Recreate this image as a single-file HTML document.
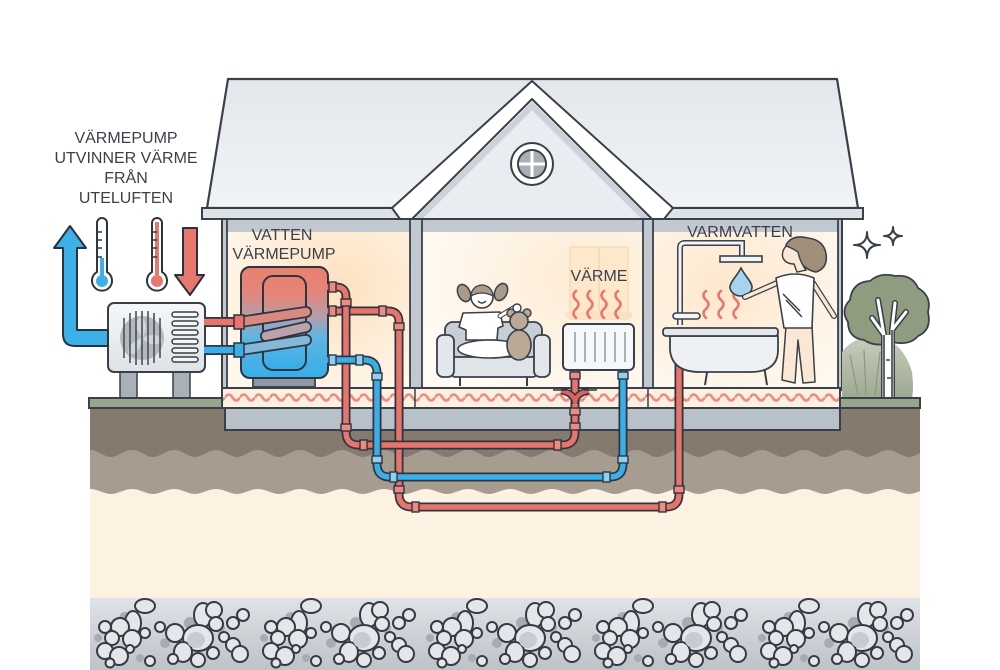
<!DOCTYPE html>
<html><head><meta charset="utf-8">
<style>
html,body{margin:0;padding:0;background:#fff;}
svg{display:block;}
text{font-family:"Liberation Sans",Arial,sans-serif;font-size:16px;fill:#3b404a;}
</style></head><body>
<svg width="1000" height="670" viewBox="0 0 1000 670" xmlns="http://www.w3.org/2000/svg">
<defs>
 <linearGradient id="roofG" x1="0" y1="0" x2="0" y2="1">
  <stop offset="0" stop-color="#e3e7ec"/><stop offset="1" stop-color="#f1f3f6"/>
 </linearGradient>
 <linearGradient id="gravG" x1="0" y1="0" x2="0" y2="1">
  <stop offset="0" stop-color="#dfe2e6"/><stop offset="1" stop-color="#bec3c9"/>
 </linearGradient>
 <linearGradient id="tankG" x1="0" y1="0" x2="0" y2="1">
  <stop offset="0" stop-color="#e9806f"/><stop offset="0.22" stop-color="#e5857a"/>
  <stop offset="0.45" stop-color="#b49eab"/><stop offset="0.62" stop-color="#62b4e0"/>
  <stop offset="1" stop-color="#36aeea"/>
 </linearGradient>
 <linearGradient id="hpG" x1="0" y1="0" x2="0" y2="1">
  <stop offset="0" stop-color="#f6f7f8"/><stop offset="1" stop-color="#dfe2e6"/>
 </linearGradient>
 <linearGradient id="bushG" x1="0" y1="0" x2="0" y2="1">
  <stop offset="0" stop-color="#c8cdbc"/><stop offset="1" stop-color="#9ea891"/>
 </linearGradient>
 <radialGradient id="room1" cx="0.62" cy="0.35" r="0.75">
  <stop offset="0" stop-color="#fde1bf"/><stop offset="1" stop-color="#fff7ec"/>
 </radialGradient>
 <radialGradient id="room2" cx="0.75" cy="0.3" r="0.8">
  <stop offset="0" stop-color="#fdebd2"/><stop offset="1" stop-color="#fffaf4"/>
 </radialGradient>
 <radialGradient id="room3" cx="0.4" cy="0.35" r="0.75">
  <stop offset="0" stop-color="#fde7cc"/><stop offset="1" stop-color="#fff8ef"/>
 </radialGradient>
 <pattern id="zig" x="0" y="388" width="15" height="20" patternUnits="userSpaceOnUse">
  <path d="M0,9.5 Q3.75,3.5 7.5,9.5 T15,9.5" fill="none" stroke="#ee8a80" stroke-width="2.6"/>
 </pattern>
 <pattern id="wave1" x="90" y="446" width="42" height="14" patternUnits="userSpaceOnUse">
  <path d="M0,0 H42 V4 C34,4 28,11 21,11 C14,11 8,4 0,4 Z" fill="#857a6e"/>
 </pattern>
 <pattern id="wave2" x="90" y="486" width="42" height="10" patternUnits="userSpaceOnUse">
  <path d="M0,0 H42 V3 C34,3 28,8 21,8 C14,8 8,3 0,3 Z" fill="#a79c90"/>
 </pattern>
 <pattern id="peb" x="90" y="598" width="166" height="72" patternUnits="userSpaceOnUse">
  <g fill="#a7acb3">
   <circle cx="35" cy="20" r="6"/><circle cx="75" cy="45" r="5"/><circle cx="130" cy="30" r="5"/>
   <circle cx="50" cy="60" r="4"/><circle cx="100" cy="25" r="6"/><circle cx="8" cy="40" r="4"/>
  </g>
  <g fill="#e4e6ea" stroke="#353b44" stroke-width="2">
   <ellipse cx="55" cy="8" rx="10" ry="7"/>
   <ellipse cx="43" cy="25" rx="8" ry="12"/>
   <circle cx="30" cy="29" r="9"/>
   <circle cx="15" cy="29" r="6"/>
   <circle cx="22" cy="40" r="7"/>
   <circle cx="42" cy="41" r="9"/>
   <circle cx="55" cy="35" r="5"/>
   <circle cx="15" cy="53" r="8"/>
   <circle cx="29" cy="58" r="9"/>
   <circle cx="20" cy="65" r="4.5"/>
   <circle cx="40" cy="51" r="4"/>
   <circle cx="60" cy="63" r="5"/>
   <ellipse cx="113" cy="17" rx="9" ry="12"/>
   <circle cx="124" cy="12" r="8"/>
   <circle cx="126" cy="26" r="7"/>
   <circle cx="85" cy="35" r="9"/>
   <circle cx="70" cy="29" r="5"/>
   <ellipse cx="108" cy="40" rx="15" ry="13"/>
   <ellipse cx="93" cy="54" rx="9" ry="10"/>
   <circle cx="83" cy="61" r="5"/>
   <circle cx="108" cy="62" r="7"/>
   <circle cx="123" cy="55" r="6"/>
   <circle cx="134" cy="39" r="5"/>
   <circle cx="143" cy="25" r="6"/>
   <circle cx="153" cy="17" r="6"/>
   <circle cx="143" cy="47" r="7"/>
   <circle cx="150" cy="56" r="8"/>
  </g>
  <ellipse cx="106" cy="42" rx="9" ry="8" fill="#c8ccd2"/>
 </pattern>
</defs>

<rect width="1000" height="670" fill="#fff"/>

<!-- ground -->
<rect x="90" y="408" width="830" height="190" fill="#fdf1e2"/>
<rect x="90" y="408" width="830" height="79" fill="#a79c90"/>
<rect x="90" y="486" width="830" height="10" fill="url(#wave2)"/>
<rect x="90" y="408" width="830" height="39" fill="#857a6e"/>
<rect x="90" y="446" width="830" height="14" fill="url(#wave1)"/>
<rect x="90" y="598" width="830" height="72" fill="url(#gravG)"/>
<rect x="90" y="598" width="830" height="72" fill="url(#peb)"/>

<!-- heat pump legs & strip -->
<rect x="120" y="371" width="17" height="28" fill="#a9b0b8" stroke="#3a4049" stroke-width="1.5"/>
<rect x="173" y="371" width="17" height="28" fill="#a9b0b8" stroke="#3a4049" stroke-width="1.5"/>
<rect x="89" y="398" width="831" height="10" fill="#95a68a" stroke="#3a4049" stroke-width="2"/>

<!-- heat pump unit -->
<rect x="108" y="303" width="97" height="69" rx="6" fill="url(#hpG)" stroke="#3a4049" stroke-width="2"/>
<circle cx="142" cy="338" r="22" fill="#b3b8be"/>
<path d="M142,338 Q130,322 142,317 Q150,327 142,338 Q160,330 162,342 Q150,348 142,338 Q140,356 128,354 Q128,342 142,338" fill="#d2d6db"/>
<g stroke="#4a5059" stroke-width="1.6">
 <line x1="124" y1="318" x2="124" y2="358"/><line x1="130" y1="313" x2="130" y2="363"/>
 <line x1="136" y1="311" x2="136" y2="365"/><line x1="142" y1="311" x2="142" y2="365"/>
 <line x1="148" y1="311" x2="148" y2="365"/><line x1="154" y1="313" x2="154" y2="363"/>
 <line x1="160" y1="318" x2="160" y2="358"/>
</g>
<g fill="#f4f5f6" stroke="#3a4049" stroke-width="1.5">
 <rect x="172" y="312" width="26" height="5" rx="2.5"/><rect x="172" y="321" width="26" height="5" rx="2.5"/>
 <rect x="172" y="330" width="26" height="5" rx="2.5"/><rect x="172" y="339" width="26" height="5" rx="2.5"/>
 <rect x="172" y="348" width="26" height="5" rx="2.5"/><rect x="172" y="357" width="26" height="5" rx="2.5"/>
</g>

<!-- blue arrow -->
<path d="M54,248 L70,226 L86,248 L77,248 L77,330 L108,330 L108,346 L75,346 Q63,346 63,334 L63,248 Z" fill="#3db0e8" stroke="#2a3240" stroke-width="2" stroke-linejoin="round"/>
<!-- red arrow -->
<path d="M183,228 H197 V275 H204 L190,295 L175,275 H183 Z" fill="#e8776d" stroke="#2a3240" stroke-width="2" stroke-linejoin="round"/>

<!-- thermometers -->
<path d="M97,223 a5,5 0 0 1 10,0 V272 a10,10 0 1 1 -10,0 Z" fill="#fff" stroke="#2f3540" stroke-width="2"/>
<rect x="100" y="258" width="4" height="20" fill="#3db0e8"/><circle cx="102" cy="281" r="6" fill="#3db0e8"/>
<g stroke="#2f3540" stroke-width="1.5"><line x1="97" y1="232" x2="102" y2="232"/><line x1="97" y1="240" x2="102" y2="240"/><line x1="97" y1="248" x2="102" y2="248"/><line x1="97" y1="257" x2="102" y2="257"/></g>
<path d="M152,223 a5,5 0 0 1 10,0 V272 a10,10 0 1 1 -10,0 Z" fill="#fff" stroke="#2f3540" stroke-width="2"/>
<rect x="155" y="222" width="4" height="56" fill="#e8776d"/><circle cx="157" cy="281" r="6" fill="#e8776d"/>
<g stroke="#2f3540" stroke-width="1.5"><line x1="152" y1="232" x2="157" y2="232"/><line x1="152" y1="240" x2="157" y2="240"/><line x1="152" y1="248" x2="157" y2="248"/><line x1="152" y1="257" x2="157" y2="257"/></g>

<!-- roof -->
<polygon points="228,79 837,79 858,208 207,208" fill="url(#roofG)" stroke="#3a4049" stroke-width="2.2" stroke-linejoin="round"/>
<rect x="202" y="208" width="661" height="11" fill="#dde2e7" stroke="#3a4049" stroke-width="2"/>
<polygon points="532,99 410,219 654,219" fill="#e9ecf0"/>
<path d="M418,219 L532,106 L646,219" fill="none" stroke="#ccd2d9" stroke-width="6"/>
<polygon points="532,81 392,208 400,219 412,219 532,99 652,219 664,219 673,208" fill="#fff" stroke="#3a4049" stroke-width="2" stroke-linejoin="round"/>
<circle cx="532" cy="164" r="21" fill="#fff" stroke="#3a4049" stroke-width="2"/>
<circle cx="532" cy="164" r="14" fill="#a9afb7" stroke="#3a4049" stroke-width="2"/>
<path d="M532,151 V177 M519,164 H545" stroke="#fff" stroke-width="3"/>

<!-- house body -->
<rect x="222" y="219" width="620" height="171" fill="#c1c8d0" stroke="#3a4049" stroke-width="2"/>
<rect x="227" y="232" width="183" height="157" fill="url(#room1)"/>
<rect x="422" y="232" width="221" height="157" fill="url(#room2)"/>
<rect x="653" y="232" width="185" height="157" fill="url(#room3)"/>
<g stroke="#3a4049" stroke-width="1.8">
 <line x1="410" y1="219" x2="410" y2="389"/><line x1="422" y1="219" x2="422" y2="389"/>
 <line x1="643" y1="219" x2="643" y2="389"/><line x1="653" y1="219" x2="653" y2="389"/>
 <line x1="227" y1="219" x2="227" y2="389"/><line x1="838" y1="219" x2="838" y2="389"/>
</g>
<rect x="222" y="388" width="618" height="20" fill="#fdf0e1" stroke="#3a4049" stroke-width="2"/>
<rect x="223" y="389" width="616" height="18" fill="url(#zig)"/>
<g stroke="#3a4049" stroke-width="1.5"><line x1="415" y1="388" x2="415" y2="408"/><line x1="648" y1="388" x2="648" y2="408"/></g>
<rect x="225" y="408" width="615" height="22" fill="#b8c1ca" stroke="#3a4049" stroke-width="2"/>

<!-- middle room window -->
<rect x="570" y="247" width="58" height="72" fill="#fde6c6" opacity="0.7" stroke="#f4d6ab" stroke-width="1.5"/>
<line x1="599" y1="247" x2="599" y2="312" stroke="#f4d6ab" stroke-width="1.5"/>
<rect x="566" y="312" width="66" height="6" fill="#fbe0bd" opacity="0.8"/>

<!-- tank -->
<rect x="253" y="376" width="62" height="11" fill="#8e99a5" stroke="#3a4049" stroke-width="1.8"/>
<rect x="241" y="267" width="87" height="111" rx="9" fill="url(#tankG)" stroke="#2f3540" stroke-width="2"/>
<rect x="263" y="276" width="43" height="94" rx="10" fill="url(#tankG)" stroke="#2f3540" stroke-width="2"/>
<!-- HP to tank pipes -->
<g fill="none" stroke-linecap="butt">
 <line x1="204" y1="322" x2="240" y2="322" stroke="#2f3540" stroke-width="10"/>
 <line x1="204" y1="322" x2="240" y2="322" stroke="#e8756c" stroke-width="6.5"/>
 <line x1="204" y1="350" x2="240" y2="350" stroke="#2f3540" stroke-width="10"/>
 <line x1="204" y1="350" x2="240" y2="350" stroke="#3aaee6" stroke-width="6.5"/>
</g>
<g stroke-linecap="round">
 <line x1="266" y1="336" x2="306" y2="327" stroke="#2f3540" stroke-width="12"/>
 <line x1="266" y1="336" x2="306" y2="327" stroke="#bba2ad" stroke-width="8.5"/>
 <line x1="240" y1="322" x2="306" y2="312" stroke="#2f3540" stroke-width="12"/>
 <line x1="240" y1="322" x2="306" y2="312" stroke="#d98a80" stroke-width="8.5"/>
 <line x1="240" y1="350" x2="306" y2="340" stroke="#2f3540" stroke-width="12"/>
 <line x1="240" y1="350" x2="306" y2="340" stroke="#84b8d8" stroke-width="8.5"/>
</g>
<rect x="234" y="315" width="10" height="14" fill="#e8756c" stroke="#2f3540" stroke-width="1.5"/>
<rect x="234" y="343" width="10" height="14" fill="#3aaee6" stroke="#2f3540" stroke-width="1.5"/>

<!-- pipes -->
<g fill="none" stroke-linejoin="round">
 <path d="M327,311 H388 Q399,311 399,322 V494 Q399,507 412,507 H666 Q679,507 679,494 V334" stroke="#2f3540" stroke-width="9"/>
 <path d="M327,311 H388 Q399,311 399,322 V494 Q399,507 412,507 H666 Q679,507 679,494 V334" stroke="#e8756c" stroke-width="5.5"/>
 <path d="M327,287 H336 Q346,287 346,297 V432 Q346,445 359,445 H562 Q575,445 575,432 V370" stroke="#2f3540" stroke-width="9"/>
 <path d="M327,287 H336 Q346,287 346,297 V432 Q346,445 359,445 H562 Q575,445 575,432 V370" stroke="#e8756c" stroke-width="5.5"/>
 <path d="M327,360 H364 Q377,360 377,373 V464 Q377,477 390,477 H610 Q623,477 623,464 V370" stroke="#2f3540" stroke-width="9"/>
 <path d="M327,360 H364 Q377,360 377,373 V464 Q377,477 390,477 H610 Q623,477 623,464 V370" stroke="#3aaee6" stroke-width="5.5"/>
 <path d="M575,404 Q575,393 561,391 M575,404 Q575,393 589,391" stroke="#2f3540" stroke-width="7"/>
 <path d="M575,404 Q575,393 561,391 M575,404 Q575,393 589,391" stroke="#d9645c" stroke-width="4"/>
</g>
<g stroke="#2f3540" stroke-width="1.5">
 <line x1="553" y1="390" x2="566" y2="390"/><line x1="584" y1="390" x2="597" y2="390"/>
</g>
<g stroke="#2f3540" stroke-width="1.4" fill="#ee8a82">
 <rect x="329" y="282" width="7" height="10"/><rect x="329" y="306" width="7" height="10"/>
 <rect x="341" y="299" width="10" height="7"/><rect x="341" y="424" width="10" height="7"/>
 <rect x="360" y="440" width="7" height="10"/><rect x="554" y="440" width="7" height="10"/>
 <rect x="570" y="408" width="10" height="7"/><rect x="570" y="423" width="10" height="7"/>
 <rect x="379" y="306" width="7" height="10"/><rect x="394" y="323" width="10" height="7"/>
 <rect x="394" y="486" width="10" height="7"/><rect x="412" y="502" width="7" height="10"/>
 <rect x="659" y="502" width="7" height="10"/><rect x="674" y="486" width="10" height="7"/>
 <rect x="674" y="337" width="10" height="7"/><rect x="570" y="372" width="10" height="7"/>
</g>
<g stroke="#2f3540" stroke-width="1.4" fill="#8fd0f0">
 <rect x="329" y="355" width="7" height="10"/><rect x="356" y="355" width="7" height="10"/>
 <rect x="372" y="373" width="10" height="7"/><rect x="372" y="456" width="10" height="7"/>
 <rect x="390" y="472" width="7" height="10"/><rect x="603" y="472" width="7" height="10"/>
 <rect x="618" y="456" width="10" height="7"/><rect x="618" y="372" width="10" height="7"/>
</g>

<!-- sofa -->
<rect x="445" y="322" width="97" height="40" rx="8" fill="#c7ced6" stroke="#3a4049" stroke-width="1.8"/>
<rect x="452" y="357" width="84" height="20" rx="3" fill="#dfe4e9" stroke="#3a4049" stroke-width="1.8"/>
<rect x="437" y="335" width="17" height="42" rx="6" fill="#e3e7ec" stroke="#3a4049" stroke-width="1.8"/>
<rect x="534" y="335" width="16" height="42" rx="6" fill="#e3e7ec" stroke="#3a4049" stroke-width="1.8"/>
<g stroke="#3a4049" stroke-width="2"><line x1="460" y1="377" x2="460" y2="386"/><line x1="527" y1="377" x2="527" y2="386"/></g>
<!-- girl -->
<ellipse cx="464" cy="293" rx="6" ry="9" fill="#ab9a88" stroke="#3a4049" stroke-width="1.5" transform="rotate(-25 464 293)"/>
<ellipse cx="501" cy="292" rx="6" ry="9" fill="#ab9a88" stroke="#3a4049" stroke-width="1.5" transform="rotate(25 501 292)"/>
<path d="M463,313 L500,312 L503,326 L498,328 L497,340 L466,340 L466,330 L459,327 Z" fill="#fff" stroke="#3a4049" stroke-width="1.6" stroke-linejoin="round"/>
<ellipse cx="490" cy="349" rx="32" ry="9" fill="#fff" stroke="#3a4049" stroke-width="1.6"/>
<path d="M500,316 L515,307" stroke="#3a4049" stroke-width="5" stroke-linecap="round"/>
<path d="M500,316 L515,307" stroke="#fff" stroke-width="3" stroke-linecap="round"/>
<circle cx="482" cy="297" r="11" fill="#fff" stroke="#3a4049" stroke-width="1.6"/>
<path d="M471,296 A11,11 0 0 1 493,296 Q482,290 471,296 Z" fill="#ab9a88" stroke="#3a4049" stroke-width="1.3"/>
<path d="M478,301 Q482,305 486,301" fill="none" stroke="#3a4049" stroke-width="1.3"/>
<!-- teddy -->
<ellipse cx="519" cy="345" rx="12" ry="15" fill="#bba896" stroke="#3a4049" stroke-width="1.6"/>
<circle cx="511" cy="313" r="4" fill="#bba896" stroke="#3a4049" stroke-width="1.4"/>
<circle cx="527" cy="313" r="4" fill="#bba896" stroke="#3a4049" stroke-width="1.4"/>
<circle cx="519" cy="321" r="9" fill="#bba896" stroke="#3a4049" stroke-width="1.6"/>
<circle cx="517" cy="308" r="4" fill="#fff" stroke="#3a4049" stroke-width="1.4"/>

<!-- radiator -->
<rect x="563" y="324" width="71" height="46" rx="5" fill="#f6f7f9" stroke="#3a4049" stroke-width="2"/>
<g stroke="#a9b0b8" stroke-width="2"><line x1="575" y1="332" x2="575" y2="362"/><line x1="585" y1="332" x2="585" y2="362"/><line x1="595" y1="332" x2="595" y2="362"/><line x1="605" y1="332" x2="605" y2="362"/><line x1="615" y1="332" x2="615" y2="362"/><line x1="625" y1="332" x2="625" y2="362"/></g>
<g fill="none" stroke="#e8756c" stroke-width="2.6" stroke-linecap="round">
 <path d="M576,318 q-5,-5 0,-9 q5,-5 0,-9 q-5,-5 0,-9"/>
 <path d="M590,318 q-5,-5 0,-9 q5,-5 0,-9 q-5,-5 0,-9"/>
 <path d="M604,318 q-5,-5 0,-9 q5,-5 0,-9 q-5,-5 0,-9"/>
 <path d="M618,318 q-5,-5 0,-9 q5,-5 0,-9 q-5,-5 0,-9"/>
</g>

<!-- bathroom -->
<path d="M680,325 V248 Q680,243 685,243 H742 V256" fill="none" stroke="#3a4049" stroke-width="6"/>
<path d="M680,325 V248 Q680,243 685,243 H742 V256" fill="none" stroke="#f2f4f6" stroke-width="3"/>
<rect x="720" y="256" width="42" height="6" fill="#f2f4f6" stroke="#3a4049" stroke-width="1.6"/>
<rect x="673" y="313" width="27" height="6" rx="3" fill="#f2f4f6" stroke="#3a4049" stroke-width="1.6"/>
<g fill="none" stroke="#e8756c" stroke-width="2.6" stroke-linecap="round">
 <path d="M706,318 q-5,-5 0,-9 q5,-5 0,-9 q-5,-5 0,-9"/>
 <path d="M721,318 q-5,-5 0,-9 q5,-5 0,-9 q-5,-5 0,-9"/>
 <path d="M736,318 q-5,-5 0,-9 q5,-5 0,-9 q-5,-5 0,-9"/>
</g>
<path d="M741,268 C745,276 752,282 752,287 A11,9 0 0 1 730,287 C730,282 737,276 741,268 Z" fill="#a7d3ee" stroke="#3a4049" stroke-width="1.6"/>
<g stroke="#3a4049" stroke-width="2"><line x1="708" y1="366" x2="705" y2="385"/><line x1="764" y1="366" x2="767" y2="385"/></g>
<path d="M670,336 H778 V350 Q778,372 750,372 H700 Q672,372 670,350 Z" fill="#eef1f4" stroke="#3a4049" stroke-width="1.8"/>
<rect x="663" y="328" width="115" height="8" rx="3" fill="#e4e8ec" stroke="#3a4049" stroke-width="1.8"/>
<!-- woman -->
<path d="M786,326 L782,380 L795,383 L798,340 L803,383 L815,382 L812,326 Z" fill="#fbe8d4" stroke="#3a4049" stroke-width="1.5" stroke-linejoin="round"/>
<path d="M777,283 L745,297" stroke="#3a4049" stroke-width="6" stroke-linecap="round"/>
<path d="M777,283 L745,297" stroke="#fbe8d4" stroke-width="3.5" stroke-linecap="round"/>
<path d="M813,283 L834,316" stroke="#3a4049" stroke-width="6" stroke-linecap="round"/>
<path d="M813,283 L834,316" stroke="#fbe8d4" stroke-width="3.5" stroke-linecap="round"/>
<path d="M776,278 Q795,270 814,278 L812,328 L784,328 Z" fill="#fff" stroke="#3a4049" stroke-width="1.6" stroke-linejoin="round"/>
<g stroke="#3a4049" stroke-width="1.5"><line x1="783" y1="294" x2="800" y2="311"/><line x1="786" y1="300" x2="802" y2="317"/></g>
<path d="M786,245 Q792,234 808,238 Q824,240 826,254 Q828,268 816,272 Q806,270 800,262 Q792,258 786,245 Z" fill="#a18f7c" stroke="#3a4049" stroke-width="1.6"/>
<path d="M786,246 Q781,252 783,258 Q786,264 794,264 L797,272 L806,270 Q800,262 798,252 Q792,248 786,246 Z" fill="#fbe8d4" stroke="#3a4049" stroke-width="1.4"/>

<!-- tree / bush -->
<path d="M842,398 V352 Q852,338 872,336 Q902,338 912,372 Q914,388 912,398 Z" fill="url(#bushG)"/>
<g stroke="#8d977f" stroke-width="1.2"><line x1="858" y1="395" x2="850" y2="355"/><line x1="866" y1="395" x2="864" y2="350"/><line x1="875" y1="395" x2="880" y2="352"/></g>
<path d="M850,300 Q852,282 870,281 Q880,272 895,276 Q912,274 918,288 Q932,296 928,312 Q932,330 918,336 Q910,346 892,342 Q876,348 864,340 Q848,338 848,322 Q840,310 850,300 Z" fill="#8f9c80" stroke="#3a4049" stroke-width="1.8"/>
<path d="M884,398 V335 L872,318 M884,335 L878,300 M892,398 V330 L906,312 M892,330 L895,303" fill="none" stroke="#3a4049" stroke-width="6" stroke-linecap="round" stroke-linejoin="round"/>
<path d="M884,398 V335 L872,318 M884,335 L878,300 M892,398 V330 L906,312 M892,330 L895,303" fill="none" stroke="#fff" stroke-width="3" stroke-linecap="round" stroke-linejoin="round"/>
<rect x="884" y="335" width="8" height="63" fill="#fff"/>
<line x1="884" y1="335" x2="884" y2="398" stroke="#3a4049" stroke-width="1.6"/>
<line x1="892" y1="330" x2="892" y2="398" stroke="#3a4049" stroke-width="1.6"/>
<g stroke="#3a4049" stroke-width="1.5"><line x1="886" y1="360" x2="890" y2="360"/><line x1="887" y1="378" x2="891" y2="378"/></g>
<rect x="840" y="398" width="80" height="10" fill="#95a68a" stroke="#3a4049" stroke-width="2"/>

<!-- sparkles -->
<path d="M867,232 Q867,245 880,245 Q867,245 867,258 Q867,245 854,245 Q867,245 867,232 Z" fill="#fff" stroke="#3a4049" stroke-width="2" stroke-linejoin="round"/>
<path d="M893,227 Q893,236 902,236 Q893,236 893,245 Q893,236 884,236 Q893,236 893,227 Z" fill="#fff" stroke="#3a4049" stroke-width="2" stroke-linejoin="round"/>

<!-- labels -->
<text x="126" y="143" text-anchor="middle">VÄRMEPUMP</text>
<text x="126" y="163" text-anchor="middle">UTVINNER VÄRME</text>
<text x="126" y="183" text-anchor="middle">FRÅN</text>
<text x="126" y="203" text-anchor="middle">UTELUFTEN</text>
<text x="282" y="240" text-anchor="middle">VATTEN</text>
<text x="284" y="259" text-anchor="middle">VÄRMEPUMP</text>
<text x="599" y="281" text-anchor="middle">VÄRME</text>
<text x="740" y="237" text-anchor="middle">VARMVATTEN</text>
</svg>
</body></html>
